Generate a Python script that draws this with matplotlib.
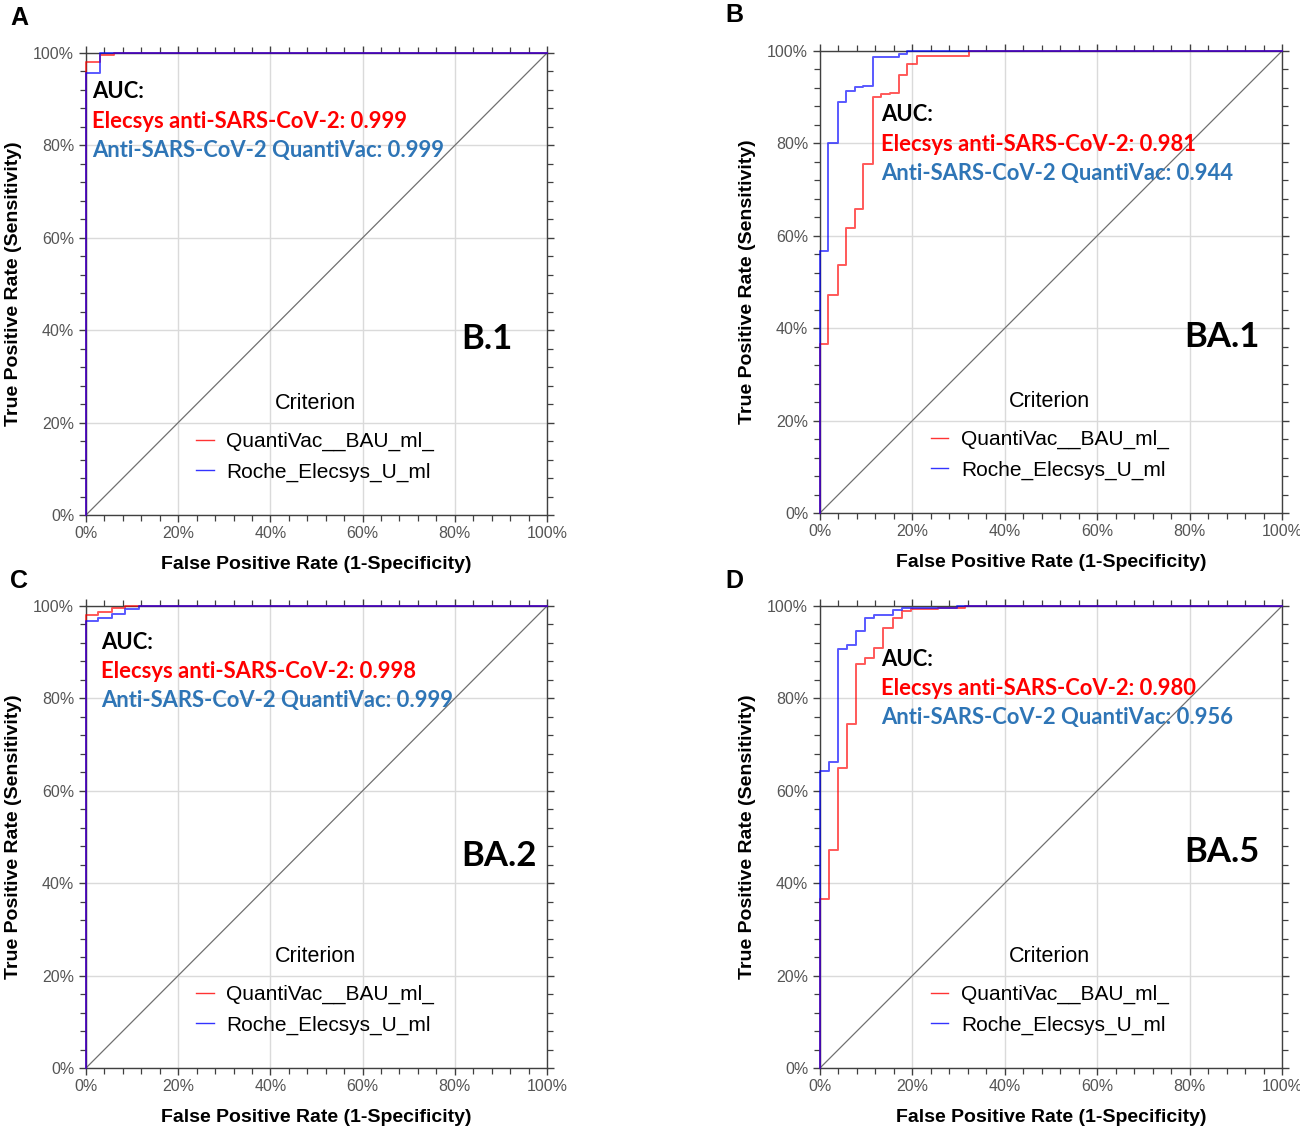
import matplotlib
matplotlib.use("Agg")
import matplotlib.pyplot as plt
from matplotlib.ticker import MultipleLocator, FuncFormatter

# ---------------- data ----------------
panel_letters = ["A", "B", "C", "D"]
variants = ["B.1", "BA.1", "BA.2", "BA.5"]
auc_elecsys = ["0.999", "0.981", "0.998", "0.980"]
auc_quantivac = ["0.999", "0.944", "0.999", "0.956"]
legend_labels = ["QuantiVac__BAU_ml_", "Roche_Elecsys_U_ml"]

# ROC corner points (FPR %, TPR %), drawn as post-steps
a_red_fpr = [0, 0, 3.1, 6.0, 100]
a_red_tpr = [0, 98.0, 99.6, 100, 100]
a_blue_fpr = [0, 0, 3.1, 100]
a_blue_tpr = [0, 95.7, 100, 100]

b_red_fpr = [0, 0, 1.8, 3.8, 5.6, 7.6, 9.4, 11.4, 13.2, 15.1, 17.0, 18.8, 20.9, 32.2, 100]
b_red_tpr = [0, 36.6, 47.2, 53.6, 61.6, 65.9, 75.5, 90.1, 90.6, 90.9, 94.7, 97.1, 99.0, 100, 100]
b_blue_fpr = [0, 0, 1.8, 3.8, 5.6, 7.6, 9.4, 11.4, 17.0, 18.8, 100]
b_blue_tpr = [0, 56.8, 80.0, 88.9, 91.3, 92.1, 92.5, 98.7, 99.4, 100, 100]

c_red_fpr = [0, 0, 2.7, 5.6, 8.5, 100]
c_red_tpr = [0, 98.1, 98.8, 99.5, 100, 100]
c_blue_fpr = [0, 0, 2.7, 5.6, 8.5, 11.4, 100]
c_blue_tpr = [0, 96.8, 97.5, 98.2, 99.3, 100, 100]

d_red_fpr = [0, 0, 2.0, 4.0, 5.8, 7.8, 9.7, 11.7, 13.7, 15.7, 17.7, 19.8, 25.6, 31.4, 100]
d_red_tpr = [0, 36.6, 47.1, 65.0, 74.5, 87.4, 88.7, 91.0, 95.2, 97.5, 98.9, 99.3, 99.5, 100, 100]
d_blue_fpr = [0, 0, 2.0, 4.0, 5.8, 7.8, 9.7, 11.7, 15.7, 17.7, 29.6, 100]
d_blue_tpr = [0, 64.3, 66.3, 90.6, 91.6, 94.5, 97.5, 98.0, 99.1, 99.6, 100, 100]

curves = [
    (a_red_fpr, a_red_tpr, a_blue_fpr, a_blue_tpr),
    (b_red_fpr, b_red_tpr, b_blue_fpr, b_blue_tpr),
    (c_red_fpr, c_red_tpr, c_blue_fpr, c_blue_tpr),
    (d_red_fpr, d_red_tpr, d_blue_fpr, d_blue_tpr),
]

# ---------------- layout ----------------
W, H = 1300, 1126
fig = plt.figure(figsize=(W / 100, H / 100), dpi=100)

ax_px = [  # left, top, right, bottom in pixels
    (86, 53, 547, 515),
    (820, 51, 1282, 513),
    (86, 606, 547, 1068),
    (820, 606, 1282, 1068),
]
auc_pos = [(1.4, 91.6), (13.2, 86.2), (3.3, 92.2), (13.2, 88.5)]
var_pos = [(87.0, 38.0), (87.0, 38.2), (89.5, 45.9), (87.0, 46.7)]
letter_px = [(10, 18), (725, 15), (10, 581), (725, 581)]

RED = "#FF0000"
BLUE = "#0000FF"
TXT_BLUE = "#2E75B6"
anno_font = ["Lato", "DejaVu Sans"]
arial = ["Liberation Sans", "DejaVu Sans"]

for i in range(4):
    l, t, r, b = ax_px[i]
    ax = fig.add_axes([l / W, 1 - b / H, (r - l) / W, (b - t) / H])
    rf, rt, bf, bt = curves[i]
    ax.plot([0, 100], [0, 100], color="#707070", lw=0.9, zorder=2)
    lr, = ax.plot(rf, rt, drawstyle="steps-post", color=RED, lw=1.4, alpha=0.65, zorder=3,
                  label=legend_labels[0], clip_on=False)
    lb, = ax.plot(bf, bt, drawstyle="steps-post", color=BLUE, lw=1.4, alpha=0.65, zorder=3,
                  label=legend_labels[1], clip_on=False)
    ax.set_xlim(0, 100)
    ax.set_ylim(0, 100)
    ax.xaxis.set_major_locator(MultipleLocator(20))
    ax.yaxis.set_major_locator(MultipleLocator(20))
    ax.xaxis.set_minor_locator(MultipleLocator(4))
    ax.yaxis.set_minor_locator(MultipleLocator(4))
    fmt = FuncFormatter(lambda v, p: f"{v:.0f}%")
    ax.xaxis.set_major_formatter(fmt)
    ax.yaxis.set_major_formatter(fmt)
    ax.grid(True, which="major", color="#DADADA", lw=1.0, zorder=1)
    ax.set_axisbelow(True)
    for s in ax.spines.values():
        s.set_color("#404040")
        s.set_linewidth(1.0)
    ax.tick_params(which="both", direction="out", top=True, right=True,
                   colors="#404040", labelcolor="#555555", labelsize=11.5)
    ax.tick_params(which="major", length=5, width=1.0)
    ax.tick_params(which="minor", length=4, width=0.9)
    ax.tick_params(axis="x", pad=3)
    ax.set_xlabel("False Positive Rate (1-Specificity)", fontsize=14, fontweight="bold",
                  family=arial, labelpad=11)
    ax.set_ylabel("True Positive Rate (Sensitivity)", fontsize=14, fontweight="bold",
                  family=arial, labelpad=8)
    for lab in ax.get_xticklabels() + ax.get_yticklabels():
        lab.set_family(arial)

    ax_x, ax_y = auc_pos[i]
    ax.text(ax_x, ax_y, "AUC:", fontsize=15.8, fontweight="bold", color="black",
            family=anno_font, va="center", ha="left", zorder=5)
    ax.text(ax_x, ax_y - 6.4, f"Elecsys anti-SARS-CoV-2: {auc_elecsys[i]}", fontsize=15.8,
            fontweight="bold", color=RED, family=anno_font, va="center", ha="left", zorder=5)
    ax.text(ax_x, ax_y - 12.7, f"Anti-SARS-CoV-2 QuantiVac: {auc_quantivac[i]}", fontsize=15.8,
            fontweight="bold", color=TXT_BLUE, family=anno_font, va="center", ha="left", zorder=5)
    vx, vy = var_pos[i]
    ax.text(vx, vy, variants[i], fontsize=25, fontweight="bold", color="black",
            family=anno_font, va="center", ha="center", zorder=5)

    leg = ax.legend(handles=[lr, lb], title="Criterion", loc="center",
                    bbox_to_anchor=(0.497, 0.168), frameon=False,
                    handlelength=0.85, handletextpad=0.6, labelspacing=0.55,
                    prop={"family": arial, "size": 15})
    leg.get_title().set_family(arial)
    leg.get_title().set_fontsize(15.5)
    leg._legend_box.sep = 13
    for h in leg.get_lines():
        h.set_linewidth(1.0)
        h.set_alpha(0.8)

    lx, ly = letter_px[i]
    fig.text(lx / W, 1 - ly / H, panel_letters[i], fontsize=18, fontweight="bold",
             family=arial, ha="left", va="center")

fig.savefig("out.png", dpi=100)
